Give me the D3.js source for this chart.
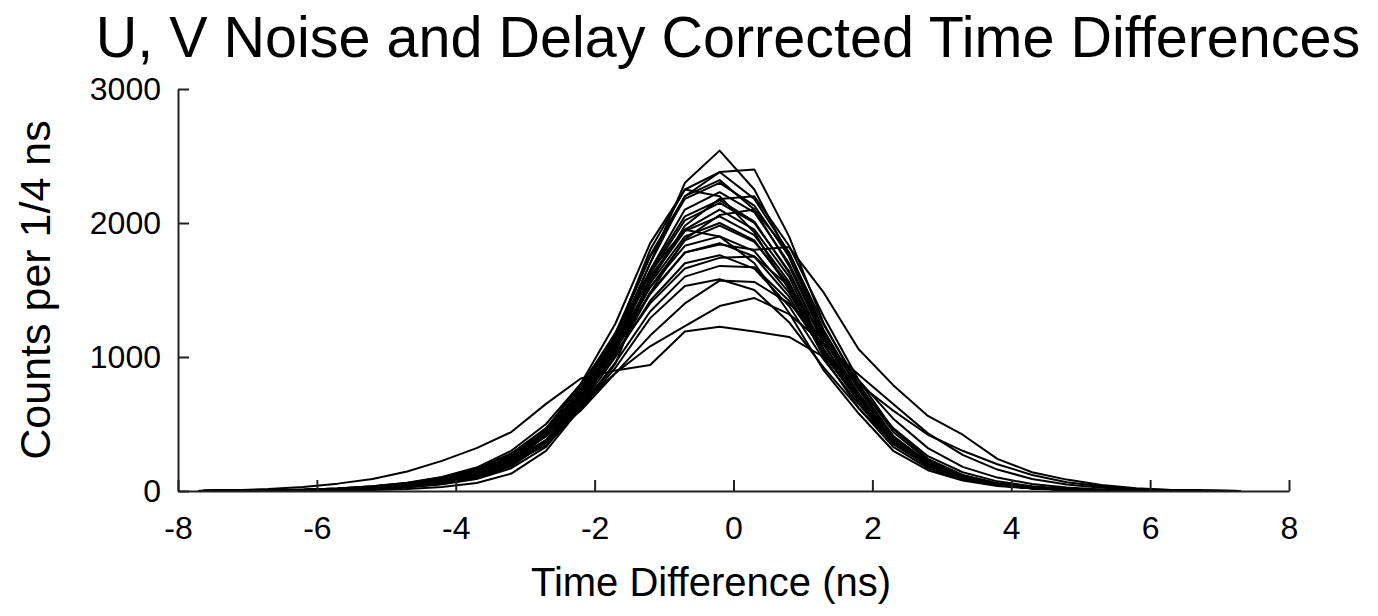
<!DOCTYPE html>
<html>
<head>
<meta charset="utf-8">
<script src="https://cdn.jsdelivr.net/npm/d3@7"></script>
<style>
    body { margin: 0; background: #fff; }
    svg text { font-family: "Liberation Sans", Arial, sans-serif; fill: #000; }
</style>
</head>
<body>
<div id="chart"></div>
<script>
// bin centres, ns (one value per point of every run below)
const timeBins = [
    -7.7, -7.2, -6.7, -6.2, -5.7, -5.2, -4.7, -4.2, -3.7, -3.2, -2.7, -2.2, -1.7, -1.2, -0.7, -0.2,
    0.3, 0.8, 1.3, 1.8, 2.3, 2.8, 3.3, 3.8, 4.3, 4.8, 5.3, 5.8, 6.3, 6.8, 7.3
];

// counts per 1/4 ns, one array per U/V channel pair
const runHigh = [
    [0,0,1,2,4,8,15,30,60,130,300,620,1100,1700,2300,2540,2250,1750,1150,700,370,190,95,45,20,9,4,2,1,0,0],
    [0,1,2,4,8,15,28,52,95,190,380,700,1150,1800,2250,2380,2180,1780,1200,760,400,200,100,48,22,10,5,2,1,0,0],
    [0,1,3,6,12,24,45,80,140,250,440,760,1150,1750,2180,2300,2130,1750,1180,760,410,215,110,52,24,11,5,2,1,0,0],
    [0,1,2,5,10,18,34,62,110,200,370,680,1120,1700,2200,2380,2400,1900,1250,780,410,200,96,45,20,9,4,2,1,0,0],
    [0,1,3,6,11,21,38,68,120,220,410,730,1180,1760,2200,2320,2100,1680,1130,720,390,200,100,48,22,10,5,2,1,0,0],
    [0,1,3,7,13,25,46,82,145,260,460,800,1250,1850,2250,2200,1930,1500,1000,620,330,170,85,42,20,9,4,2,1,0,0],
    [0,1,2,5,9,17,31,56,100,185,360,660,1080,1650,2100,2230,2080,1700,1150,730,390,200,98,47,22,10,5,2,1,0,0]
];

const runMid = [
    [0,1,3,6,11,20,36,64,115,210,380,680,1080,1560,1980,2180,2200,1830,1300,830,460,240,120,57,26,12,5,2,1,0,0],
    [0,1,3,7,13,25,45,80,140,250,440,760,1130,1620,2020,2150,2000,1640,1100,700,370,195,98,48,22,10,5,2,1,0,0],
    [0,1,3,6,12,22,40,70,120,210,340,610,950,1600,1950,2100,1950,1600,1050,690,360,190,95,46,21,10,5,2,1,0,0],
    [0,2,5,10,19,35,62,105,175,300,500,800,1150,1580,1940,2050,1910,1560,1040,680,360,190,95,46,21,10,5,2,1,0,0],
    [0,1,4,8,15,28,50,88,150,265,450,740,1080,1550,1900,2000,1870,1520,1020,670,350,185,92,45,21,10,5,2,1,0,0],
    [0,1,2,4,8,15,28,50,90,170,330,640,1060,1640,2050,2170,2010,1630,1090,700,370,190,95,45,21,10,5,2,1,0,0],
    [0,1,3,7,14,26,48,84,145,255,430,720,1060,1520,1870,1980,1860,1540,1060,700,380,200,100,50,23,11,5,2,1,0,0],
    [0,1,3,6,11,20,36,64,112,200,360,640,1000,1480,1880,2060,2100,1780,1240,800,440,230,115,55,25,11,5,2,1,0,0],
    [0,1,4,8,16,30,54,94,160,280,470,780,1180,1640,1950,1900,1700,1330,900,580,300,155,78,38,18,8,4,2,1,0,0]
];

const runLow = [
    [0,2,5,10,19,35,60,100,165,280,460,740,1100,1520,1830,1900,1790,1480,1050,710,400,220,115,58,28,13,6,3,1,0,0],
    [0,1,4,8,15,28,50,86,145,250,420,700,1050,1470,1780,1850,1750,1450,1020,690,390,210,108,54,26,12,5,2,1,0,0],
    [0,1,3,7,13,24,44,78,135,240,410,700,1060,1480,1780,1840,1800,1820,1480,1060,790,560,420,240,140,85,45,20,8,3,0],
    [0,2,5,10,19,34,58,96,160,270,440,700,1030,1400,1660,1740,1750,1530,1150,780,470,260,140,72,35,16,7,3,1,0,0],
    [0,1,4,8,15,28,49,84,142,245,410,680,1010,1420,1700,1760,1660,1380,980,650,360,195,100,50,24,11,5,2,1,0,0],
    [0,1,3,7,13,24,43,75,128,220,375,630,960,1340,1600,1680,1670,1420,1040,700,400,215,110,54,26,12,5,2,1,0,0],
    [0,1,3,7,13,24,43,74,126,218,370,610,920,1290,1530,1580,1500,1260,920,620,360,200,105,52,25,12,5,2,1,0,0]
];

const runFlat = [
    [0,1,2,5,10,20,40,75,135,230,380,600,880,1160,1400,1570,1560,1400,1130,830,540,320,180,100,52,26,12,5,2,1,0],
    [0,1,4,8,16,30,55,95,160,270,430,640,880,1080,1230,1380,1440,1320,1100,870,650,430,270,160,90,48,25,12,5,2,0],
    [2,6,15,30,55,90,145,225,320,440,650,840,900,940,1190,1225,1190,1150,1000,800,600,420,300,200,120,65,35,15,7,3,0]
];

const xTicks = [-8, -6, -4, -2, 0, 2, 4, 6, 8];
const yTicks = [0, 1000, 2000, 3000];

const titleText = "U, V Noise and Delay Corrected Time Differences";
const xLabel = "Time Difference (ns)";
const yLabel = "Counts per 1/4 ns";

const W = 1378, H = 616;
const plot = { left: 178, right: 1289, top: 89, bottom: 491 };

const svg = d3.select("#chart")
    .append("svg")
    .attr("width", W)
    .attr("height", H);

const xScale = d3.scaleLinear().domain([-8, 8]).range([plot.left, plot.right]);
const yScale = d3.scaleLinear().domain([0, 3000]).range([plot.bottom, plot.top]);

// curves first, axes drawn over them
const allRuns = [...runFlat, ...runLow, ...runMid, ...runHigh];
const line = d3.line()
    .x((d, i) => xScale(timeBins[i]))
    .y(d => yScale(d));

svg.append("g")
    .selectAll("path")
    .data(allRuns)
    .join("path")
    .attr("d", line)
    .attr("fill", "none")
    .attr("stroke", "#000")
    .attr("stroke-width", 2)
    .attr("stroke-linejoin", "round");

// axes, ticks point inward
const xAxis = svg.append("g")
    .attr("transform", `translate(0, ${plot.bottom})`)
    .call(d3.axisBottom(xScale)
        .tickValues(xTicks)
        .tickFormat(d => String(d))
        .tickSizeInner(-11)
        .tickSizeOuter(0)
        .tickPadding(25));

const yAxis = svg.append("g")
    .attr("transform", `translate(${plot.left}, 0)`)
    .call(d3.axisLeft(yScale)
        .tickValues(yTicks)
        .tickFormat(d => String(d))
        .tickSizeInner(-11)
        .tickSizeOuter(0)
        .tickPadding(17));

[xAxis, yAxis].forEach(ax => {
    ax.select(".domain").attr("stroke", "#222").attr("stroke-width", 2);
    ax.selectAll(".tick line").attr("stroke", "#222").attr("stroke-width", 2);
    ax.selectAll(".tick text")
        .attr("font-family", "'Liberation Sans', Arial, sans-serif")
        .attr("font-size", 32)
        .attr("fill", "#000");
});

svg.append("text")
    .attr("x", 728)
    .attr("y", 57)
    .attr("text-anchor", "middle")
    .attr("font-size", 57.5)
    .text(titleText);

svg.append("text")
    .attr("x", 711)
    .attr("y", 596)
    .attr("text-anchor", "middle")
    .attr("font-size", 40)
    .text(xLabel);

svg.append("text")
    .attr("transform", "translate(50, 290) rotate(-90)")
    .attr("text-anchor", "middle")
    .attr("font-size", 43)
    .text(yLabel);
</script>
</body>
</html>
